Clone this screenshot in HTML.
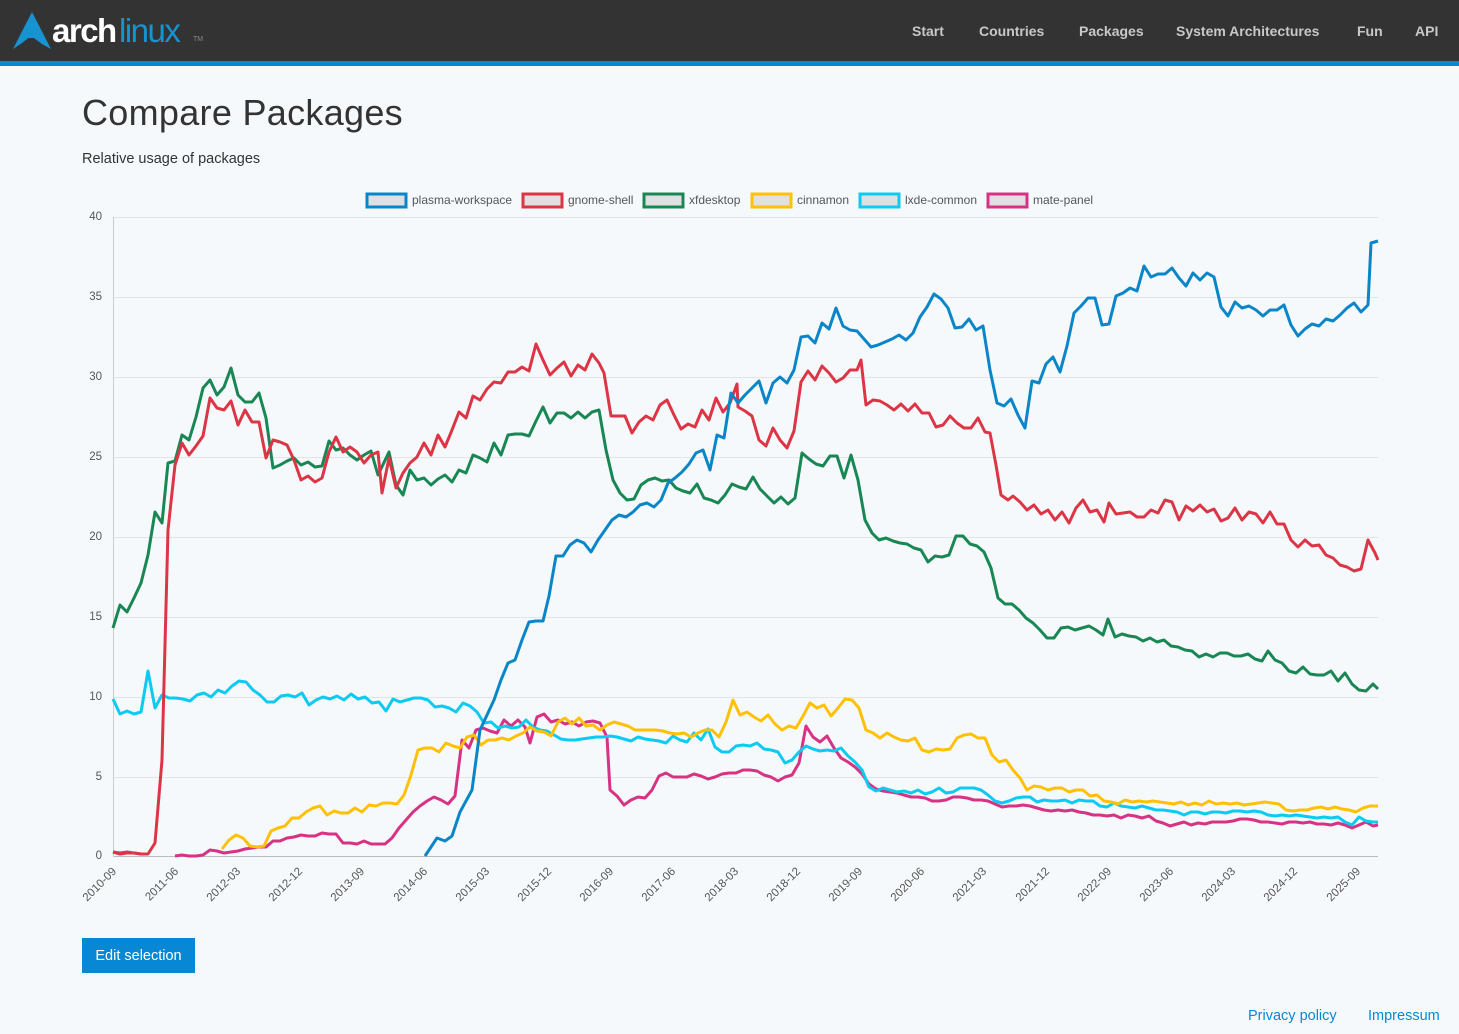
<!DOCTYPE html>
<html><head><meta charset="utf-8"><style>
*{margin:0;padding:0;box-sizing:border-box}
body{width:1459px;height:1034px;background:#f6f9fc;font-family:"Liberation Sans","DejaVu Sans",sans-serif;position:relative;overflow:hidden;color:#212529}
.hdr{position:absolute;left:0;top:0;width:1459px;height:61px;background:#333}
.bar{position:absolute;left:0;top:61px;width:1459px;height:5px;background:#0888d4}
.nav{position:absolute;top:23px;font-size:14px;font-weight:bold;color:#c8c8c8}
h1{position:absolute;left:82px;top:92px;font-size:36px;font-weight:normal;color:#333;letter-spacing:0.3px}
.sub{position:absolute;left:82px;top:151px;font-size:14.5px;color:#333}
.btn{position:absolute;left:82px;top:938px;width:113px;height:35px;background:#0888d4;color:#fff;font-size:14.5px;line-height:36px;text-align:center}
.ft{position:absolute;top:1008px;font-size:14.5px;color:#0888d4}
</style></head><body>
<div class="hdr"></div><div class="bar"></div>
<svg style="position:absolute;left:0;top:0" width="220" height="60">
<path d="M32 12 L13 49 L22 43 L31 36 L42 44 L51 49 Z M32 28 L27 38 L37 38Z" fill="#1793d1"/>
<text x="52" y="42" font-size="33" font-weight="bold" fill="#fff" font-family="Liberation Sans,sans-serif" letter-spacing="-1.5">arch</text>
<text x="119" y="42" font-size="33" fill="#1793d1" font-family="Liberation Sans,sans-serif" letter-spacing="-1.5">linux</text>
<text x="193" y="41" font-size="7" fill="#888">TM</text>
</svg>
<div class="nav" style="left:912px">Start</div>
<div class="nav" style="left:979px">Countries</div>
<div class="nav" style="left:1079px">Packages</div>
<div class="nav" style="left:1176px">System Architectures</div>
<div class="nav" style="left:1357px">Fun</div>
<div class="nav" style="left:1415px">API</div>
<h1>Compare Packages</h1>
<div class="sub">Relative usage of packages</div>
<svg style="position:absolute;left:0;top:0" width="1459" height="1034" font-family="Liberation Sans,sans-serif">
<g stroke="#e4e4e4" stroke-width="1">
<line x1="113" y1="217.5" x2="1378" y2="217.5"/><line x1="113" y1="297.5" x2="1378" y2="297.5"/><line x1="113" y1="377.5" x2="1378" y2="377.5"/><line x1="113" y1="457.5" x2="1378" y2="457.5"/><line x1="113" y1="537.5" x2="1378" y2="537.5"/><line x1="113" y1="617.5" x2="1378" y2="617.5"/><line x1="113" y1="697.5" x2="1378" y2="697.5"/><line x1="113" y1="777.5" x2="1378" y2="777.5"/>
</g>
<line x1="113" y1="856.5" x2="1378" y2="856.5" stroke="#bbb"/>
<line x1="113.5" y1="217" x2="113.5" y2="857" stroke="#ccc"/>
<g font-size="11.5" fill="#555" text-anchor="end">
<text x="102" y="220">40</text><text x="102" y="300">35</text><text x="102" y="380">30</text><text x="102" y="460">25</text><text x="102" y="540">20</text><text x="102" y="620">15</text><text x="102" y="700">10</text><text x="102" y="780">5</text><text x="102" y="859">0</text>
</g>
<g font-size="11.5" fill="#555" text-anchor="end">
<text transform="translate(117,872) rotate(-45)">2010-09</text>
<text transform="translate(179,872) rotate(-45)">2011-06</text>
<text transform="translate(241,872) rotate(-45)">2012-03</text>
<text transform="translate(303,872) rotate(-45)">2012-12</text>
<text transform="translate(365,872) rotate(-45)">2013-09</text>
<text transform="translate(428,872) rotate(-45)">2014-06</text>
<text transform="translate(490,872) rotate(-45)">2015-03</text>
<text transform="translate(552,872) rotate(-45)">2015-12</text>
<text transform="translate(614,872) rotate(-45)">2016-09</text>
<text transform="translate(676,872) rotate(-45)">2017-06</text>
<text transform="translate(739,872) rotate(-45)">2018-03</text>
<text transform="translate(801,872) rotate(-45)">2018-12</text>
<text transform="translate(863,872) rotate(-45)">2019-09</text>
<text transform="translate(925,872) rotate(-45)">2020-06</text>
<text transform="translate(987,872) rotate(-45)">2021-03</text>
<text transform="translate(1050,872) rotate(-45)">2021-12</text>
<text transform="translate(1112,872) rotate(-45)">2022-09</text>
<text transform="translate(1174,872) rotate(-45)">2023-06</text>
<text transform="translate(1236,872) rotate(-45)">2024-03</text>
<text transform="translate(1298,872) rotate(-45)">2024-12</text>
<text transform="translate(1361,872) rotate(-45)">2025-09</text>
</g>
<g font-size="12" fill="#555">
<rect x="367" y="194" width="39" height="13" fill="#e0e0e3" stroke="#0a86c8" stroke-width="3"/><text x="412" y="204">plasma-workspace</text>
<rect x="523" y="194" width="39" height="13" fill="#e0e0e3" stroke="#dc3545" stroke-width="3"/><text x="568" y="204">gnome-shell</text>
<rect x="644" y="194" width="39" height="13" fill="#e0e0e3" stroke="#198754" stroke-width="3"/><text x="689" y="204">xfdesktop</text>
<rect x="752" y="194" width="39" height="13" fill="#e0e0e3" stroke="#ffc107" stroke-width="3"/><text x="797" y="204">cinnamon</text>
<rect x="860" y="194" width="39" height="13" fill="#e0e0e3" stroke="#0dcaf0" stroke-width="3"/><text x="905" y="204">lxde-common</text>
<rect x="988" y="194" width="39" height="13" fill="#e0e0e3" stroke="#d63384" stroke-width="3"/><text x="1033" y="204">mate-panel</text>
</g>
<g fill="none" stroke-width="3" stroke-linejoin="round">
<polyline stroke="#d63384" points="113,852 120,853 127,852 134,853 141,854 148,854"/>
<polyline stroke="#d63384" points="175,856 182,855 189,856 196,856 203,855 210,850 217,851 224,853 231,852 238,851 245,849 252,848 259,847 266,847 273,841 280,841 287,838 294,837 301,835 308,836 315,836 322,833 329,834 336,834 343,843 350,843 357,844 364,841 371,844 378,844 385,844 392,838 399,828 406,820 413,812 420,806 427,801 434,797 441,800 448,804 455,796 462,740 469,748 476,730 483,728 490,731 497,733 504,720 511,726 518,720 525,727 530,743 537,717 544,714 551,722 558,720 565,724 572,722 579,726 586,722 593,721 600,723 607,737 610,790 617,796 624,805 631,800 638,797 645,798 652,790 659,776 666,773 673,777 680,777 687,777 694,774 701,776 708,779 715,777 722,774 729,773 736,773 743,770 750,770 757,771 764,775 771,777 778,781 785,777 792,775 799,763 806,726 813,737 820,742 827,736 834,748 841,758 848,762 855,767 862,774 869,784 876,789 883,791 890,792 897,793 904,795 911,797 918,797 925,798 932,801 939,801 946,800 953,797 960,797 967,798 974,800 981,800 988,801 995,804 1002,807 1009,806 1016,806 1023,805 1030,806 1037,808 1044,810 1051,811 1058,810 1065,811 1072,810 1079,812 1086,813 1093,815 1100,815 1107,816 1114,815 1121,818 1128,815 1135,816 1142,818 1149,816 1156,821 1163,823 1170,826 1177,824 1184,822 1191,825 1198,823 1205,824 1212,822 1219,822 1226,822 1233,821 1240,819 1247,819 1254,820 1261,822 1268,822 1275,823 1282,824 1289,822 1296,822 1303,823 1310,822 1317,824 1324,824 1331,825 1338,823 1345,825 1352,828 1359,825 1366,822 1373,826 1378,825"/>
<polyline stroke="#0dcaf0" points="113,699 120,714 127,711 134,714 141,712 148,671 155,708 162,695 169,698 176,698 183,699 190,701 197,695 204,693 211,697 218,690 225,693 232,686 239,681 246,682 253,690 260,695 267,702 274,702 281,696 288,695 295,697 302,693 309,705 316,700 323,697 330,699 337,696 344,700 351,694 358,699 365,697 372,703 379,702 386,711 393,699 400,702 407,700 414,698 421,698 428,700 435,707 442,706 449,708 456,712 463,703 470,706 477,712 484,723 491,722 498,728 505,726 512,728 519,727 526,720 533,727 540,730 547,731 554,735 561,739 568,740 575,740 582,739 589,738 596,737 603,737 610,736 617,737 624,739 631,741 638,737 645,739 652,740 659,741 666,743 673,736 680,740 687,742 694,733 701,740 708,729 715,747 722,752 729,752 736,746 743,745 750,746 757,743 764,749 771,750 778,752 785,763 792,760 799,752 806,746 813,749 820,751 827,750 834,751 841,748 848,756 855,762 862,770 869,787 876,791 883,788 890,790 897,792 904,791 911,793 918,790 925,794 932,792 939,788 946,793 953,792 960,788 967,788 974,788 981,790 988,795 995,801 1002,803 1009,801 1016,798 1023,797 1030,797 1037,802 1044,800 1051,801 1058,801 1065,800 1072,803 1079,800 1086,801 1093,801 1100,806 1107,807 1114,803 1121,806 1128,807 1135,808 1142,806 1149,808 1156,810 1163,810 1170,811 1177,812 1184,815 1191,812 1198,812 1205,814 1212,812 1219,812 1226,813 1233,811 1240,811 1247,812 1254,811 1261,812 1268,815 1275,816 1282,815 1289,816 1296,815 1303,816 1310,817 1317,818 1324,817 1331,818 1338,817 1345,822 1352,825 1359,817 1366,821 1373,822 1378,822"/>
<polyline stroke="#ffc107" points="222,849 229,840 236,835 243,838 250,846 257,847 264,846 271,831 278,828 285,826 292,818 299,818 306,812 313,808 320,806 327,815 334,811 341,813 348,813 355,808 362,812 369,805 376,806 383,803 390,803 397,804 404,795 411,775 418,750 425,748 432,748 439,752 446,743 453,746 460,748 467,737 474,735 481,745 488,740 495,740 502,738 509,740 516,736 523,733 530,727 537,731 544,732 551,736 558,722 565,718 572,724 579,718 586,726 593,725 600,730 607,725 614,722 621,724 628,726 635,730 642,730 649,730 656,730 663,731 670,733 677,734 684,733 691,737 698,733 705,730 712,730 719,737 726,722 733,700 740,715 747,712 754,717 761,721 768,715 775,724 782,730 789,726 796,728 803,716 810,703 817,708 824,705 831,716 838,708 845,699 852,700 859,708 866,730 873,733 880,738 887,733 894,737 901,740 908,741 915,738 922,750 929,752 936,749 943,750 950,749 957,738 964,735 971,734 978,738 985,738 992,755 999,762 1006,760 1013,770 1020,778 1027,790 1034,786 1041,787 1048,790 1055,788 1062,788 1069,792 1076,790 1083,790 1090,796 1097,795 1104,801 1111,802 1118,804 1125,800 1132,802 1139,801 1146,802 1153,801 1160,802 1167,803 1174,804 1181,802 1188,805 1195,803 1202,805 1209,801 1216,804 1223,803 1230,804 1237,803 1244,805 1251,804 1258,803 1265,802 1272,803 1279,804 1286,810 1293,811 1300,810 1307,810 1314,808 1321,807 1328,809 1335,807 1342,809 1349,810 1356,812 1363,808 1370,806 1378,806"/>
<polyline stroke="#198754" points="113,628 120,605 127,612 134,598 141,583 148,555 155,512 162,523 168,463 175,461 182,435 189,440 196,417 203,388 210,380 217,395 224,387 231,368 238,395 245,402 252,402 259,393 266,418 273,468 280,465 287,461 294,458 301,465 308,462 315,467 322,466 329,441 336,450 343,448 350,455 357,460 364,455 371,451 378,475 389,452 396,485 403,495 410,470 417,480 424,478 431,485 438,479 445,475 452,482 459,470 466,473 473,455 480,458 487,462 494,443 501,455 508,435 515,434 522,434 529,436 536,421 543,407 550,423 557,413 564,413 571,418 578,412 585,418 592,412 599,410 606,450 613,480 620,493 627,500 634,499 641,485 648,480 655,478 662,481 669,480 676,488 683,491 690,493 697,484 704,498 711,500 718,503 725,495 732,484 739,487 746,489 753,477 760,489 767,496 774,503 781,497 788,504 795,498 802,453 809,459 816,464 823,466 830,456 837,456 844,478 851,455 858,480 865,520 872,533 879,540 886,538 893,541 900,543 907,544 914,548 921,550 928,562 935,556 942,557 949,555 956,536 963,536 970,544 977,546 984,552 991,568 998,598 1005,604 1012,604 1019,610 1026,618 1033,623 1040,630 1047,638 1054,638 1061,628 1068,627 1075,630 1082,628 1089,626 1096,630 1103,635 1108,619 1115,637 1122,634 1129,636 1136,637 1143,641 1150,638 1157,642 1164,640 1171,646 1178,647 1185,650 1192,651 1199,657 1206,654 1213,657 1220,653 1227,653 1234,656 1241,656 1248,654 1255,659 1262,661 1268,651 1275,660 1282,663 1289,671 1296,673 1303,667 1310,674 1317,675 1324,675 1331,671 1338,681 1345,673 1352,684 1359,690 1366,691 1373,684 1378,689"/>
<polyline stroke="#dc3545" points="113,852 120,854 127,853 134,853 141,854 148,854 155,843 162,760 168,530 175,465 182,443 189,455 196,446 203,436 210,398 217,408 224,410 231,401 238,425 245,410 252,422 259,422 266,458 273,440 280,442 287,445 294,460 301,480 308,476 315,482 322,478 329,452 336,437 343,452 350,447 357,452 364,463 371,455 378,452 382,493 389,458 396,488 403,473 410,463 417,457 424,443 431,455 438,435 445,447 452,430 459,412 466,418 473,396 480,400 487,389 494,382 501,383 508,372 515,372 522,367 529,371 536,344 543,360 550,375 557,368 564,362 571,376 578,365 585,370 592,354 599,363 604,373 611,416 618,416 625,416 632,433 639,422 646,416 653,420 660,405 667,400 674,415 681,429 688,424 695,427 702,410 709,420 716,398 723,412 730,403 737,384 738,407 745,411 752,416 759,440 766,446 773,428 780,440 787,448 794,431 801,382 808,371 815,380 822,366 829,373 836,382 843,378 850,370 857,370 861,360 866,405 873,400 880,401 887,405 894,410 901,404 908,411 915,404 922,413 929,413 936,427 943,425 950,416 957,423 964,428 971,428 978,418 985,432 990,433 996,465 1001,495 1008,500 1013,496 1020,502 1027,510 1034,505 1041,514 1048,510 1055,520 1062,512 1069,523 1076,508 1083,500 1090,512 1097,510 1104,522 1109,503 1116,514 1123,513 1130,512 1137,517 1144,517 1151,510 1158,513 1165,500 1172,502 1179,520 1186,506 1193,511 1200,505 1207,512 1214,509 1221,521 1228,518 1235,508 1242,520 1249,512 1256,514 1263,523 1270,512 1277,524 1284,524 1291,540 1298,547 1305,540 1312,546 1319,545 1326,555 1333,558 1340,565 1347,567 1354,571 1361,569 1368,540 1375,553 1378,560"/>
<polyline stroke="#0a86c8" points="425,856 437,838 445,841 452,836 460,812 472,790 480,730 487,715 494,700 501,680 508,663 515,660 522,640 529,622 536,621 543,621 549,596 556,556 563,556 570,545 577,540 584,543 591,552 598,540 605,530 612,520 619,515 626,517 633,512 640,505 647,503 654,507 661,500 668,483 675,478 682,472 689,464 696,453 703,450 710,470 717,435 724,438 731,393 738,403 745,395 752,388 759,381 766,403 773,383 780,377 787,383 794,370 801,337 808,336 815,343 822,323 829,329 836,308 843,326 850,330 857,331 864,339 871,347 878,345 885,342 892,339 899,335 906,340 913,333 920,317 927,307 934,294 941,299 948,308 955,328 962,327 969,319 976,330 983,326 990,370 997,403 1004,406 1011,399 1018,415 1025,428 1032,381 1039,383 1046,364 1053,357 1060,372 1067,346 1074,313 1081,306 1088,298 1095,298 1102,325 1109,324 1116,296 1123,293 1130,288 1137,291 1144,266 1151,277 1158,274 1165,274 1172,268 1179,278 1186,286 1193,273 1200,280 1207,273 1214,277 1221,307 1228,316 1235,302 1242,308 1249,306 1256,310 1263,316 1270,310 1277,310 1284,305 1291,325 1298,336 1305,329 1312,324 1319,326 1326,319 1333,321 1340,315 1347,308 1354,303 1361,312 1368,305 1371,243 1378,241"/>
</g>
</svg>
<div class="btn">Edit selection</div>
<div class="ft" style="left:1248px">Privacy policy</div>
<div class="ft" style="left:1368px">Impressum</div>
</body></html>
